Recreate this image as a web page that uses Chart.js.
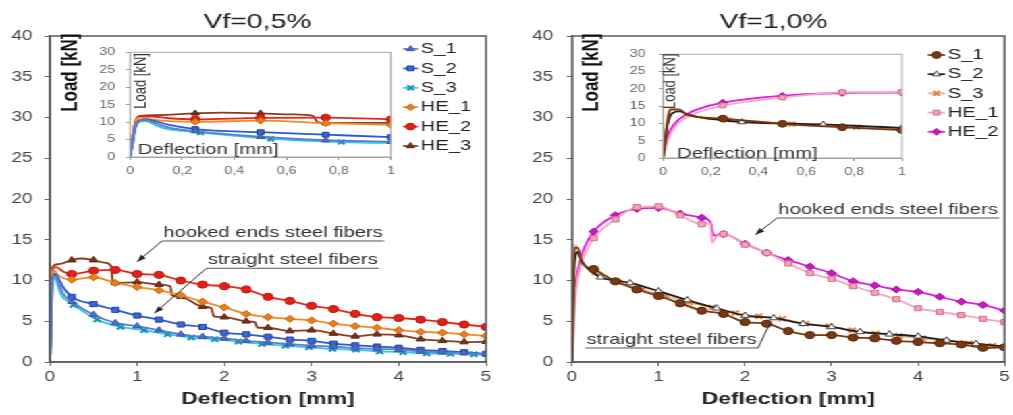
<!DOCTYPE html>
<html>
<head>
<meta charset="utf-8">
<script src="https://cdn.jsdelivr.net/npm/chart.js@4.4.1/dist/chart.umd.min.js"></script>
<style>
  html, body { margin: 0; padding: 0; background: #fff; overflow: hidden; width: 1013px; height: 415px; }
  /* the reference picture is stretched sideways, so the whole stage is too */
  #stage { position: absolute; left: 0; top: 0; width: 751px; height: 415px; transform: scaleX(1.35); transform-origin: 0 0; }
  canvas { position: absolute; }
</style>
</head>
<body>
<div id="stage">
  <canvas id="mainL" width="375" height="415" style="left:0;top:0;width:375px;height:415px"></canvas>
  <canvas id="insetL" width="290" height="145" style="left:70px;top:38px;width:290px;height:145px"></canvas>
  <canvas id="mainR" width="376" height="415" style="left:375px;top:0;width:376px;height:415px"></canvas>
  <canvas id="insetR" width="291" height="145" style="left:460px;top:38px;width:291px;height:145px"></canvas>
</div>
<script>
// ---- data: deflection [mm] / load [kN] ----
const seriesNames05 = ['S_1', 'S_2', 'S_3', 'HE_1', 'HE_2', 'HE_3'];
const seriesNames10 = ['S_1', 'S_2', 'S_3', 'HE_1', 'HE_2'];

// Vf = 0,5 %
const vf05_S_x   = [0, 0.01, 0.02, 0.04, 0.06, 0.1, 0.15, 0.25, 0.5, 0.75, 1, 1.25, 1.5, 1.75, 2, 2.25, 2.5, 2.75, 3, 3.25, 3.5, 3.75, 4, 4.25, 4.5, 4.75, 5];
const vf05_S1_y  = [0, 4, 8.5, 10.4, 10.6, 9.6, 8.4, 7.4, 5.8, 4.8, 4.4, 3.9, 3.4, 3.1, 2.9, 2.6, 2.4, 2.2, 2.0, 1.9, 1.7, 1.6, 1.5, 1.3, 1.2, 1.1, 1.0];
const vf05_S2_y  = [0, 4, 8.5, 10.6, 10.8, 10.2, 9.2, 8.0, 7.1, 6.4, 5.7, 5.2, 4.6, 4.3, 3.6, 3.4, 3.1, 2.75, 2.6, 2.25, 2.05, 1.9, 1.75, 1.5, 1.35, 1.2, 1.0];
const vf05_S3_x  = [0, 0.01, 0.02, 0.04, 0.06, 0.1, 0.15, 0.2, 0.27, 0.54, 0.81, 1.08, 1.35, 1.62, 1.89, 2.16, 2.43, 2.7, 2.97, 3.24, 3.51, 3.78, 4.05, 4.32, 4.59, 4.86, 5];
const vf05_S3_y  = [0, 4, 8, 10.2, 10.3, 9.0, 7.9, 7.5, 7.0, 5.2, 4.3, 3.9, 3.4, 3.0, 2.8, 2.5, 2.2, 2.0, 1.8, 1.6, 1.5, 1.3, 1.2, 1.05, 1.0, 0.95, 0.9];
const vf05_HE_x  = [0, 0.01, 0.02, 0.04, 0.08, 0.15, 0.25, 0.5, 0.75, 1, 1.25, 1.5, 1.75, 2, 2.25, 2.5, 2.75, 3, 3.25, 3.5, 3.75, 4, 4.25, 4.5, 4.75, 5];
const vf05_HE1_y = [0, 5, 9.5, 11.3, 10.8, 10.3, 10.1, 10.4, 9.7, 9.2, 8.8, 8.2, 7.4, 6.7, 5.9, 5.5, 5.3, 5.1, 4.7, 4.4, 4.2, 3.9, 3.7, 3.6, 3.4, 3.2];
const vf05_HE2_y = [0, 5, 9.8, 11.6, 11.6, 11.1, 10.8, 11.2, 11.3, 10.8, 10.7, 10.0, 9.5, 9.3, 8.9, 8.0, 7.5, 6.9, 6.5, 5.9, 5.5, 5.4, 5.2, 4.9, 4.6, 4.3];
const vf05_HE3_x = [0, 0.01, 0.02, 0.04, 0.1, 0.25, 0.35, 0.5, 0.62, 0.7, 0.72, 0.75, 1, 1.25, 1.38, 1.4, 1.5, 1.75, 1.85, 1.88, 2, 2.25, 2.35, 2.38, 2.5, 2.75, 3, 3.25, 3.5, 3.75, 4, 4.25, 4.5, 4.75, 5];
const vf05_HE3_y = [0, 5, 10, 11.8, 12.0, 12.5, 12.7, 12.5, 12.2, 11.8, 9.9, 9.7, 9.8, 9.5, 9.3, 8.2, 8.0, 6.8, 6.6, 5.6, 5.5, 5.0, 4.9, 4.2, 4.2, 3.8, 3.9, 3.5, 3.15, 3.4, 3.3, 2.8, 2.6, 2.45, 2.5];

// Vf = 1,0 %
const vf10_S1_x  = [0, 0.01, 0.02, 0.03, 0.07, 0.1, 0.15, 0.25, 0.5, 0.75, 1, 1.25, 1.5, 1.75, 2, 2.25, 2.5, 2.75, 3, 3.25, 3.5, 3.75, 4, 4.25, 4.5, 4.75, 5];
const vf10_S1_y  = [0, 6, 11, 14.0, 14.0, 12.5, 11.8, 11.4, 9.9, 8.9, 8.1, 7.2, 6.3, 5.9, 4.9, 4.7, 3.8, 3.3, 3.3, 3.0, 2.9, 2.6, 2.45, 2.3, 2.15, 1.75, 1.8];
const vf10_S2_x  = [0, 0.01, 0.02, 0.04, 0.07, 0.1, 0.15, 0.2, 0.33, 0.67, 1, 1.33, 1.67, 2, 2.33, 2.67, 3, 3.33, 3.67, 4, 4.33, 4.67, 5];
const vf10_S2_y  = [0, 5, 10, 13.0, 13.5, 12.7, 11.8, 11.3, 10.4, 9.7, 8.7, 7.6, 6.6, 5.7, 5.4, 4.7, 4.3, 3.7, 3.4, 3.15, 2.65, 2.25, 1.9];
const vf10_S3_x  = [0, 0.01, 0.02, 0.03, 0.06, 0.1, 0.15, 0.27, 0.54, 0.81, 1.08, 1.35, 1.62, 1.89, 2.16, 2.43, 2.7, 2.97, 3.24, 3.51, 3.78, 4.05, 4.32, 4.59, 4.86, 5];
const vf10_S3_y  = [0, 7, 12, 14.3, 14.2, 12.6, 11.8, 11.0, 9.8, 8.9, 8.1, 7.3, 6.7, 6.0, 5.6, 5.3, 4.7, 4.4, 3.9, 3.5, 3.2, 2.9, 2.6, 2.3, 2.0, 1.8];
const vf10_HE1_x = [0, 0.02, 0.05, 0.1, 0.15, 0.25, 0.5, 0.75, 1, 1.25, 1.5, 1.6, 1.62, 1.66, 1.75, 2, 2.25, 2.5, 2.75, 3, 3.25, 3.5, 3.75, 4, 4.25, 4.5, 4.75, 5];
const vf10_HE1_y = [0, 5, 9, 11.8, 13.3, 15.2, 17.5, 19.0, 19.1, 18.0, 16.9, 17.0, 14.6, 15.3, 15.7, 14.4, 13.4, 12.1, 10.9, 10.2, 9.3, 8.5, 7.7, 6.6, 6.15, 5.75, 5.3, 4.9];
const vf10_HE2_x = [0, 0.01, 0.02, 0.05, 0.1, 0.15, 0.25, 0.5, 0.75, 1, 1.25, 1.5, 1.6, 1.64, 1.75, 2, 2.25, 2.5, 2.75, 3, 3.25, 3.5, 3.75, 4, 4.25, 4.5, 4.75, 5];
const vf10_HE2_y = [0, 3.5, 6.5, 10, 12.7, 14.2, 16.0, 18.0, 18.8, 18.9, 18.2, 17.7, 17.2, 15.5, 15.7, 14.5, 13.4, 12.5, 11.7, 10.9, 9.9, 9.4, 8.9, 8.6, 8.0, 7.4, 7.0, 6.3];

// ---- looks ----
const styles05 = [
  { line: '#5d7fc9', fill: '#4a6fbf', edge: '#3a5aa8', marker: 'triangle', step: 0.25 },
  { line: '#2c59d8', fill: '#3b68e0', edge: '#20409a', marker: 'rect',     step: 0.25 },
  { line: '#35c6ea', fill: '#35c6ea', edge: '#1c8fb8', marker: 'crossRot', step: 0.27 },
  { line: '#f28a26', fill: '#e87f1e', edge: '#c96a10', marker: 'rectRot',  step: 0.25 },
  { line: '#e82418', fill: '#e0201a', edge: '#c01810', marker: 'circle',   step: 0.25 },
  { line: '#8c3b1e', fill: '#7a3218', edge: '#5c2410', marker: 'triangle', step: 0.25 }
];
const styles10 = [
  { line: '#7a3812', fill: '#7a3812', edge: '#5a2808', marker: 'circle',   step: 0.25 },
  { line: '#1e1e1e', fill: '#ffffff', edge: '#444444', marker: 'triangle', step: 1 / 3 },
  { line: '#f2b084', fill: '#f2b084', edge: '#e0884c', marker: 'crossRot', step: 0.27 },
  { line: '#f5a9bb', fill: '#f6a3b7', edge: '#d0708c', marker: 'rect',     step: 0.25 },
  { line: '#e21ddc', fill: '#c818c2', edge: '#a010a0', marker: 'rectRot',  step: 0.25 }
];

Chart.defaults.font.family = '"Liberation Sans", Arial, Helvetica, sans-serif';
Chart.defaults.color = '#444';

// markers only sit every "step" mm along a curve
const onStep = (x, step) => x >= 0.2 && Math.abs(x / step - Math.round(x / step)) < 0.02;

function makeDataset(label, xs, ys, st, r) {
  return {
    label,
    data: xs.map((x, i) => ({ x, y: ys[i] })),
    borderColor: st.line,
    borderWidth: 1.8,
    pointStyle: st.marker,
    pointBackgroundColor: st.fill,
    pointBorderColor: st.edge,
    pointBorderWidth: st.marker === 'crossRot' ? 2 : 1,
    pointRadius: c => (c.raw && onStep(c.raw.x, st.step) ? r : 0),
    cubicInterpolationMode: 'monotone',
    fill: false
  };
}

function sets05(r) {
  const xs = [vf05_S_x, vf05_S_x, vf05_S3_x, vf05_HE_x, vf05_HE_x, vf05_HE3_x];
  const ys = [vf05_S1_y, vf05_S2_y, vf05_S3_y, vf05_HE1_y, vf05_HE2_y, vf05_HE3_y];
  return seriesNames05.map((n, i) => makeDataset(n, xs[i], ys[i], styles05[i], r));
}
function sets10(r) {
  const xs = [vf10_S1_x, vf10_S2_x, vf10_S3_x, vf10_HE1_x, vf10_HE2_x];
  const ys = [vf10_S1_y, vf10_S2_y, vf10_S3_y, vf10_HE1_y, vf10_HE2_y];
  return seriesNames10.map((n, i) => makeDataset(n, xs[i], ys[i], styles10[i], r));
}

// ---- plugins ----
const framePlugin = {
  id: 'frame',
  afterDatasetsDraw(chart, args, opts) {
    const a = chart.chartArea, ctx = chart.ctx;
    ctx.save();
    ctx.strokeStyle = opts.color || '#666';
    ctx.lineWidth = opts.width || 1;
    ctx.strokeRect(a.left, a.top, a.right - a.left, a.bottom - a.top);
    ctx.restore();
  }
};

// free text in data units: titles, rotated axis names, underlined callouts with leader lines
const notesPlugin = {
  id: 'notes',
  afterDraw(chart, args, opts) {
    const ctx = chart.ctx, xs = chart.scales.x, ys = chart.scales.y;
    (opts.items || []).forEach(it => {
      const px = xs.getPixelForValue(it.x), py = ys.getPixelForValue(it.y);
      ctx.save();
      ctx.font = it.font;
      ctx.fillStyle = it.color || '#333';
      ctx.textBaseline = 'middle';
      if (it.rotate) {
        ctx.translate(px, py);
        ctx.rotate(-Math.PI / 2);
        ctx.textAlign = 'center';
        ctx.fillText(it.text, 0, 0);
        ctx.restore();
        return;
      }
      ctx.textAlign = it.center ? 'center' : 'left';
      ctx.fillText(it.text, px, py);
      if (it.underline !== undefined) {
        const w = ctx.measureText(it.text).width;
        const uy = ys.getPixelForValue(it.underline);
        ctx.strokeStyle = '#555';
        ctx.lineWidth = 1;
        ctx.beginPath(); ctx.moveTo(px - 1, uy); ctx.lineTo(px + w + 1, uy); ctx.stroke();
        if (it.leader) {
          const sx = it.leader.from === 'end' ? px + w + 1 : px - 1;
          const tx = xs.getPixelForValue(it.leader.to[0]), ty = ys.getPixelForValue(it.leader.to[1]);
          ctx.strokeStyle = '#333';
          ctx.beginPath(); ctx.moveTo(sx, uy); ctx.lineTo(tx, ty); ctx.stroke();
          if (it.leader.head) {
            const ang = Math.atan2(ty - uy, tx - sx);
            ctx.fillStyle = '#222';
            ctx.beginPath();
            ctx.moveTo(tx, ty);
            ctx.lineTo(tx - 7 * Math.cos(ang) + 2.5 * Math.sin(ang), ty - 7 * Math.sin(ang) - 2.5 * Math.cos(ang));
            ctx.lineTo(tx - 7 * Math.cos(ang) - 2.5 * Math.sin(ang), ty - 7 * Math.sin(ang) + 2.5 * Math.cos(ang));
            ctx.closePath();
            ctx.fill();
          }
        }
      }
      ctx.restore();
    });
  }
};

// legend to the right of the inset: short line + marker + name
const lineLegendPlugin = {
  id: 'lineLegend',
  afterDraw(chart, args, opts) {
    const ctx = chart.ctx, a = chart.chartArea;
    ctx.save();
    chart.data.datasets.forEach((ds, i) => {
      const y = opts.top + i * opts.step;
      const x0 = a.right + opts.offset;
      ctx.strokeStyle = ds.borderColor;
      ctx.lineWidth = 1.8;
      ctx.beginPath(); ctx.moveTo(x0, y); ctx.lineTo(x0 + opts.len, y); ctx.stroke();
      ctx.fillStyle = ds.pointBackgroundColor;
      ctx.strokeStyle = ds.pointBorderColor;
      ctx.lineWidth = ds.pointBorderWidth;
      Chart.helpers.drawPoint(ctx, { pointStyle: ds.pointStyle, radius: opts.radius, borderWidth: ds.pointBorderWidth, rotation: 0 }, x0 + opts.len / 2, y);
      ctx.fillStyle = '#222';
      ctx.font = '15px "Liberation Sans", Arial, sans-serif';
      ctx.textAlign = 'left';
      ctx.textBaseline = 'middle';
      ctx.fillText(ds.label, x0 + opts.len + 2, y);
    });
    ctx.restore();
  }
};

// ---- chart builders ----
function buildMain(id, datasets, cfg) {
  return new Chart(document.getElementById(id), {
    type: 'line',
    data: { datasets },
    options: {
      responsive: false, animation: false, devicePixelRatio: 1, events: [],
      layout: { autoPadding: false, padding: { left: 0, right: cfg.padRight, top: 36, bottom: 0 } },
      scales: {
        x: {
          type: 'linear', min: 0, max: 5,
          ticks: { stepSize: 1, color: '#444', font: { size: 14 }, padding: 3 },
          grid: { drawOnChartArea: false, tickLength: 4, color: '#666' },
          border: { color: '#666', width: 1.5 },
          title: { display: true, text: 'Deflection [mm]', color: '#222', font: { size: 17, weight: 'bold' }, padding: { top: 0, bottom: 5 } },
          afterFit: s => { s.height = 53; }
        },
        y: {
          type: 'linear', min: 0, max: 40,
          ticks: { stepSize: 5, color: '#444', font: { size: 14 }, padding: cfg.tickPad },
          grid: { drawOnChartArea: false, tickLength: 4, color: '#666' },
          border: { color: '#666', width: 1.5 },
          afterFit: s => { s.width = cfg.axisW; }
        }
      },
      plugins: {
        legend: { display: false },
        tooltip: { enabled: false },
        frame: { color: '#5a5a5a', width: 1.5 },
        notes: { items: cfg.notes }
      }
    },
    plugins: [framePlugin, notesPlugin]
  });
}

function buildInset(id, datasets, cfg) {
  return new Chart(document.getElementById(id), {
    type: 'line',
    data: { datasets },
    options: {
      responsive: false, animation: false, devicePixelRatio: 1, events: [],
      layout: { autoPadding: false, padding: { left: 0, right: cfg.padRight, top: 5, bottom: 0 } },
      scales: {
        x: {
          type: 'linear', min: 0, max: 1,
          ticks: { stepSize: 0.2, color: '#666', font: { size: 10.5 }, padding: 5,
                   callback: v => String(Math.round(v * 10) / 10).replace('.', ',') },
          grid: { drawOnChartArea: false, tickLength: 3, color: '#999' },
          border: { color: '#999', width: 1 },
          afterFit: s => { s.height = cfg.axisH; }
        },
        y: {
          type: 'linear', min: 0, max: 30,
          ticks: { stepSize: 5, color: '#666', font: { size: 10.5 }, padding: cfg.tickPad },
          grid: { drawOnChartArea: false, tickLength: 3, color: '#999' },
          border: { color: '#999', width: 1 },
          afterFit: s => { s.width = cfg.axisW; }
        }
      },
      plugins: {
        legend: { display: false },
        tooltip: { enabled: false },
        frame: { color: '#aaa', width: 1 },
        notes: { items: cfg.notes },
        lineLegend: cfg.legend
      }
    },
    plugins: [framePlugin, notesPlugin, lineLegendPlugin]
  });
}

const titleFont = '21px "Liberation Sans", Arial, sans-serif';
const mainFont = 'bold 17px "Liberation Sans", Arial, sans-serif';
const noteFont = '15px "Liberation Sans", Arial, sans-serif';
const insetYFont = '13px "Liberation Sans", Arial, sans-serif';

buildMain('mainL', sets05(3.6), {
  axisW: 37, tickPad: 9, padRight: 15,
  notes: [
    { text: 'Vf=0,5%', x: 2.38, y: 41.75, center: true, font: titleFont, color: '#222' },
    { text: 'Load [kN]', x: 0.23, y: 35.5, rotate: true, font: mainFont, color: '#111' },
    { text: 'hooked ends steel fibers', x: 1.30, y: 15.8, underline: 14.85, font: noteFont,
      leader: { from: 'start', to: [1.0, 12.3], head: true } },
    { text: 'straight steel fibers', x: 1.81, y: 12.5, underline: 11.5, font: noteFont,
      leader: { from: 'start', to: [1.2, 6.0], head: true } }
  ]
});

buildMain('mainR', sets10(3.6), {
  axisW: 48.7, tickPad: 10, padRight: 4.3,
  notes: [
    { text: 'Vf=1,0%', x: 2.33, y: 41.75, center: true, font: titleFont, color: '#222' },
    { text: 'Load [kN]', x: 0.23, y: 35.5, rotate: true, font: mainFont, color: '#111' },
    { text: 'hooked ends steel fibers', x: 2.385, y: 18.65, underline: 17.67, font: noteFont,
      leader: { from: 'start', to: [2.12, 15.6], head: true } },
    { text: 'straight steel fibers', x: 0.17, y: 2.7, underline: 1.72, font: noteFont,
      leader: { from: 'end', to: [2.29, 4.8], head: false } }
  ]
});

buildInset('insetL', sets05(3.4), {
  axisW: 26.3, axisH: 26, tickPad: 8, padRight: 70.4,
  notes: [
    { text: 'Load [kN]', x: 0.043, y: 21.8, rotate: true, font: insetYFont, color: '#333' },
    { text: 'Deflection [mm]', x: 0.03, y: 2.1, font: noteFont, color: '#333' }
  ],
  legend: { offset: 9, len: 11, top: 11, step: 19.4, radius: 3.4 }
});

buildInset('insetR', sets10(3.4), {
  axisW: 31.1, axisH: 25, tickPad: 10, padRight: 82.9,
  notes: [
    { text: 'Load [kN]', x: 0.03, y: 22.2, rotate: true, font: insetYFont, color: '#333' },
    { text: 'Deflection [mm]', x: 0.059, y: 1.3, font: noteFont, color: '#333' }
  ],
  legend: { offset: 19.3, len: 12.6, top: 17, step: 19.2, radius: 3.4 }
});
</script>
</body>
</html>
